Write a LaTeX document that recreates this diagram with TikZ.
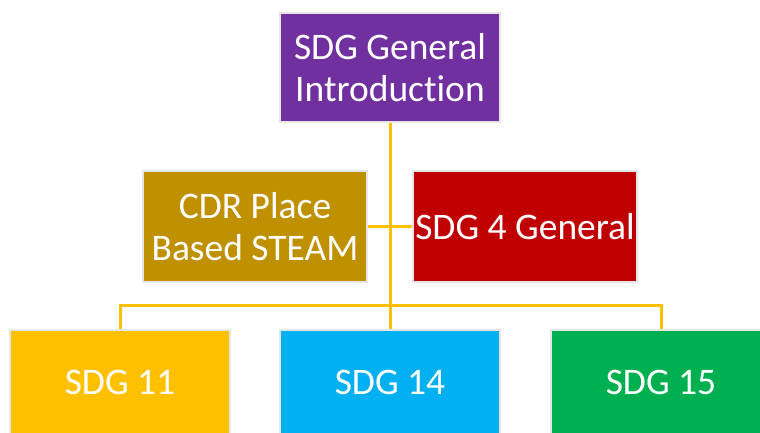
\documentclass[tikz,border=0pt]{standalone}
\usepackage{fontspec}
\setmainfont[Ligatures={NoCommon}]{Carlito}
\definecolor{cpurple}{HTML}{7030A0}
\definecolor{cgoldd}{HTML}{BF9000}
\definecolor{cred}{HTML}{C00000}
\definecolor{cgold}{HTML}{FFC000}
\definecolor{cblue}{HTML}{00B0F0}
\definecolor{cgreen}{HTML}{00B050}
\definecolor{cedge}{HTML}{E6E6E6}
\begin{document}
\begin{tikzpicture}[x=1pt,y=-1pt,
  box/.style={draw=cedge, line width=1.2pt, text=white, align=center, inner sep=0pt,
    font=\fontsize{37.5}{41.5}\selectfont},
  wide/.style={box, minimum width=220pt, minimum height=109pt},
  low/.style={box, minimum width=220pt, minimum height=104pt},
  link/.style={draw=cgold, line width=3pt}]
\useasboundingbox (0,0) rectangle (760,432);
\clip (0,0) rectangle (760,432);
\fill[white] (0,0) rectangle (760,432);
\node[wide, fill=cpurple] (top) at (390,67.5) {SDG General\\Introduction};
\node[box, fill=cgoldd, minimum width=224pt, minimum height=111pt] (cdr) at (255,226.5) {CDR Place\\Based STEAM};
\node[box, fill=cred, minimum width=224pt, minimum height=111pt] (sdg4) at (525,226.5) {SDG 4 General};
\node[low, fill=cgold] (s11) at (120,382) {SDG 11};
\node[low, fill=cblue] (s14) at (390,382) {SDG 14};
\node[low, fill=cgreen] (s15) at (661,382) {SDG 15};
\coordinate (bus) at (390,305);
\draw[link] (top.south) -- (s14.north);
\draw[link] (cdr.east) -- (sdg4.west);
\draw[link] (s11.north) |- (bus) -| (s15.north);
\end{tikzpicture}
\end{document}
